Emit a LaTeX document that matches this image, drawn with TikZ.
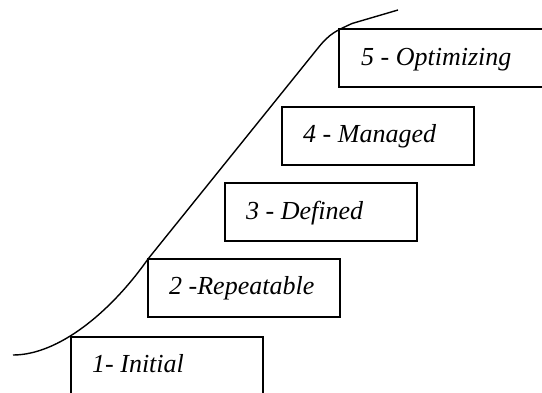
\documentclass[tikz,border=0pt]{standalone}
\usepackage{fontspec}
\setmainfont{Liberation Serif}
\begin{document}
\begin{tikzpicture}[x=1pt,y=-1pt,
  lvlbox/.style={draw=black, line width=1.7pt, minimum width=192pt, minimum height=58pt, anchor=north west, inner sep=0pt, outer sep=0pt},
  lvltext/.style={anchor=base west, inner sep=0pt, font=\fontsize{26}{30}\selectfont\itshape},
  curveline/.style={draw=black, line width=1.4pt}]
\useasboundingbox (0,0) rectangle (542,392);
\clip (0,0) rectangle (542,392);
\node[lvlbox] (b1) at (71,337) {};
\node[lvlbox] (b2) at (148,259) {};
\node[lvlbox] (b3) at (225,183) {};
\node[lvlbox] (b4) at (282,107) {};
\node[lvlbox, minimum width=260pt] (b5) at (339,29) {};
\node[lvltext] (t1) at (92,372) {1- Initial};
\node[lvltext] (t2) at (169,294) {2 -Repeatable};
\node[lvltext] (t3) at (246,219) {3 - Defined};
\node[lvltext] (t4) at (303,142) {4 - Managed};
\node[lvltext] (t5) at (361,65) {5 - Optimizing};
\coordinate (cstart) at (13,355);
\coordinate (cend) at (398,10);
\draw[curveline] (cstart) .. controls (58,355) and (110,313) .. (148,259)
  -- (318,48) .. controls (330,33.1) and (336,31) .. (352,23.5) -- (cend);
\end{tikzpicture}
\end{document}
